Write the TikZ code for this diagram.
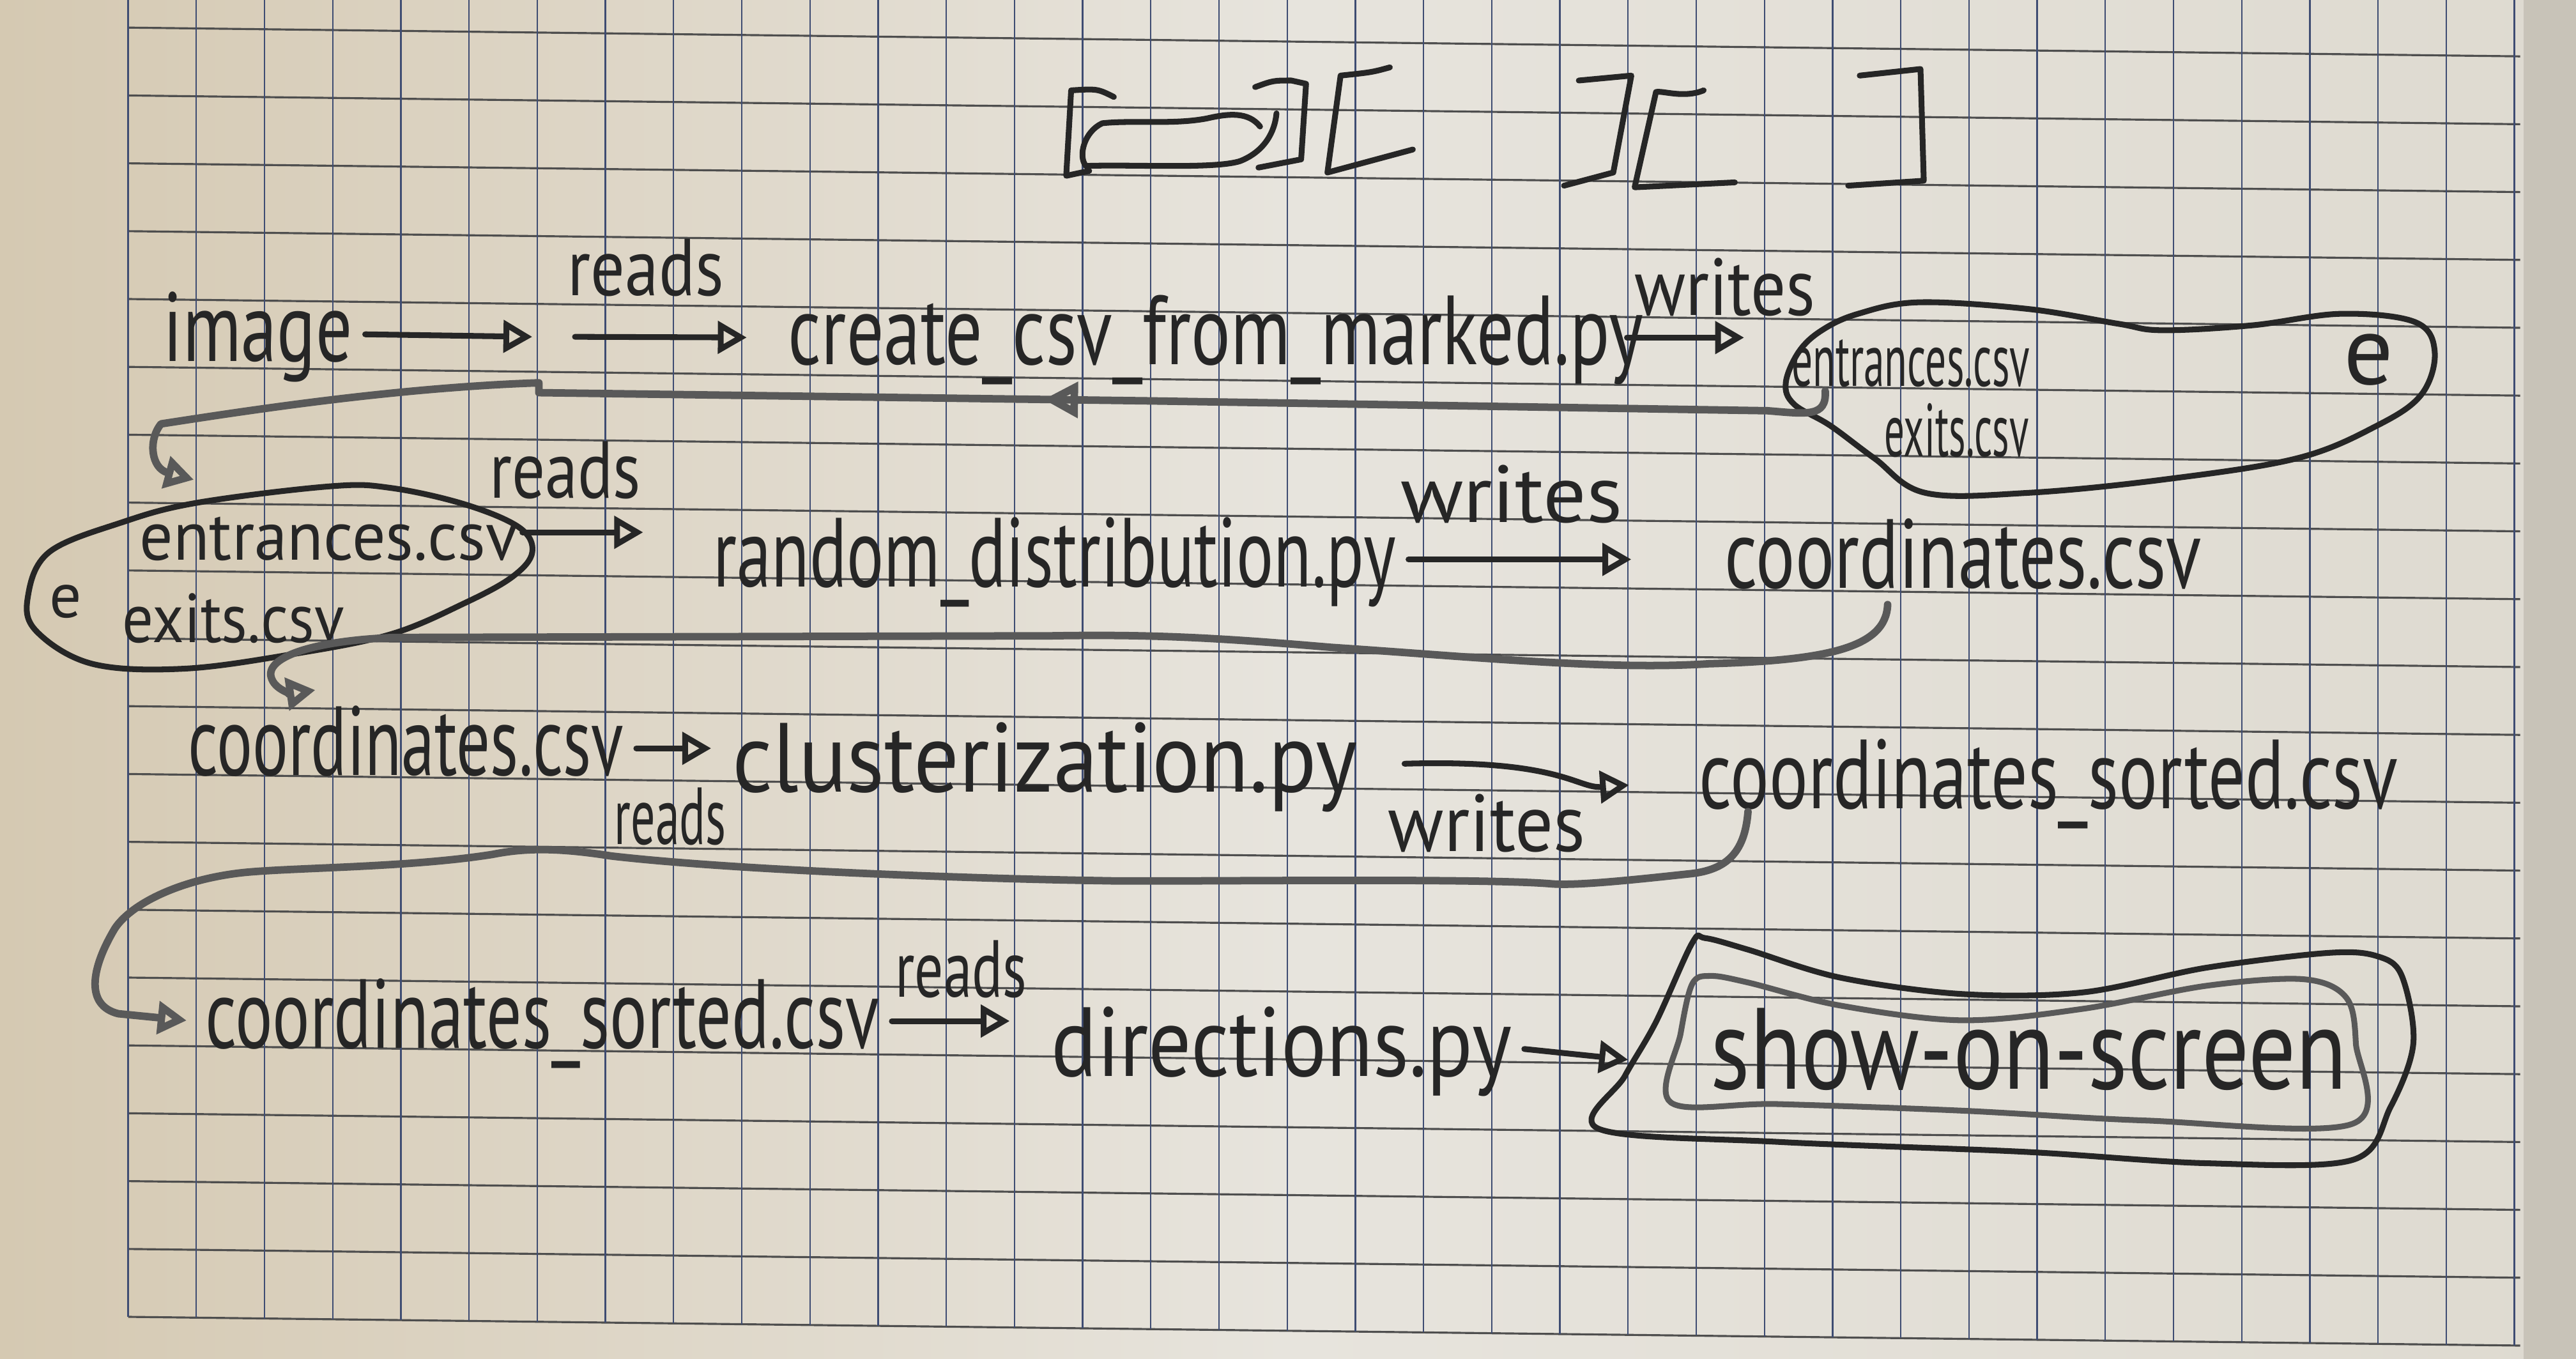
\documentclass[tikz,border=0pt]{standalone}
\usepackage{fontspec}
\setmainfont{PT Sans}
\usepackage{graphicx}
\usetikzlibrary{arrows.meta,decorations.markings,calc}

\definecolor{paperL}{HTML}{D5C9B2}
\definecolor{paperM}{HTML}{E7E4DD}
\definecolor{paperR}{HTML}{DEDAD0}
\definecolor{pageedge}{HTML}{AFA89C}
\definecolor{gridh}{HTML}{4E4E4E}
\definecolor{gridv}{HTML}{3E4C72}
\definecolor{lead}{HTML}{262626}
\definecolor{leadsoft}{HTML}{595959}

% squeeze a label horizontally to a given width, keeping its height
\newcommand\hw[2]{\resizebox{#1}{\height}{#2}}

\tikzset{
  pencil/.style={draw=lead, line width=1pt, line cap=round, line join=round},
  soft/.style={draw=leadsoft, line width=1.3pt, line cap=round, line join=round},
  tip/.style={-{Triangle[open,length=5pt,width=5.5pt]}},
  arr/.style={pencil, tip},
  lbl/.style={text=lead, inner sep=2pt, anchor=base,
              font=\fontsize{17}{19}\selectfont, text height=13pt, text depth=3.6pt},
  small/.style={lbl, font=\fontsize{14}{16}\selectfont, text height=10pt, text depth=2.6pt},
  tiny/.style={lbl, font=\fontsize{13}{15}\selectfont, text height=9pt, text depth=2.4pt},
  midtip/.style={postaction={decorate}, decoration={markings,
      mark=at position #1 with {\arrow{Triangle[open,length=6pt,width=6pt]}}}},
}

\begin{document}
\begin{tikzpicture}[x=0.01cm,y=-0.01cm]
\useasboundingbox (0,0) rectangle (1568,827);

% ---- squared paper ----
\shade[left color=paperL, right color=paperR, middle color=paperM] (0,0) rectangle (1568,827);
\fill[pageedge, opacity=0.45] (1536,0) rectangle (1568,827);
\foreach \k in {-3,...,16}
  \draw[gridh, line width=0.35pt] (78,{140.7+41.3*\k}) -- (1534,{158.2+41.3*\k});
\foreach \i in {0,...,35}
  \draw[gridv, line width=0.25pt] ({78+41.5*\i},0) -- ({78+41.5*\i},{801.5+0.498*\i});

% ---- screen layout doodle ----
\draw[pencil] (678,59) .. controls (668,54) .. (652,55) -- (649,107) -- (663,104);
\draw[pencil] (767,77) .. controls (760,68) and (748,69) .. (735,72)
  .. controls (715,76) and (690,73) .. (671,75)
  .. controls (660,80) and (656,95) .. (661,101)
  .. controls (690,100) and (740,103) .. (755,98)
  .. controls (770,92) and (776,80) .. (777,69);
\draw[pencil] (764,53) .. controls (775,49) .. (786,49) -- (795,51) -- (792,97) -- (766,102);
\draw[pencil] (846,41) .. controls (835,44) .. (816,46) -- (808,105) -- (860,91);
\draw[pencil] (961,49) -- (993,46) -- (982,105) -- (952,113);
\draw[pencil] (1037,55) .. controls (1025,60) and (1012,55) .. (1008,56) -- (995,114) -- (1056,111);
\draw[pencil] (1132,46) -- (1169,42) -- (1171,110) -- (1125,113);

% ---- row 1 ----
\node[lbl] (image) at (157,220) {\hw{1.15cm}{image}};
\node[lbl] (create) at (740,222) {\hw{5.2cm}{create\_csv\_from\_marked.py}};
\node[small] (reads1) at (393,180) {\hw{0.95cm}{reads}};
\node[small] (writes1) at (1050,192) {\hw{1.1cm}{writes}};
\node[tiny] (entr1) at (1163,235) {\hw{1.45cm}{entrances.csv}};
\node[tiny] (exits1) at (1191,278) {\hw{0.88cm}{exits.csv}};
\node[small, font=\fontsize{17}{19}\selectfont] (e1) at (1442,234) {e};
\draw[pencil] plot[smooth cycle, tension=0.6] coordinates {
  (1168,184) (1234,188) (1289,197) (1316,201) (1371,198) (1425,191) (1470,196)
  (1482,214) (1474,240) (1447,259) (1398,279) (1316,292) (1234,300) (1172,300)
  (1141,279) (1114,259) (1092,246) (1087,233) (1095,214) (1109,201) (1131,191)};

\coordinate (r1a) at (324,205);
\coordinate (r1b) at (350,205);
\draw[arr] (image.east) -- (r1a);
\draw[arr, shorten >=5pt] (r1b) -- (create.west);
\draw[arr, shorten <=-5pt, shorten >=6pt] (create.east) -- (create.east -| entr1.west);

% ---- row 2 ----
\node[tiny, font=\fontsize{12}{14}\selectfont, inner sep=0pt] (entr2) at (200,341) {\hw{2.3cm}{entrances.csv}};
\node[tiny, font=\fontsize{12}{14}\selectfont, inner sep=0pt] (exits2) at (142,391) {\hw{1.35cm}{exits.csv}};
\node[small, font=\fontsize{11}{13}\selectfont] (e2) at (40,376) {e};
\node[small] (reads2) at (344,303) {\hw{0.92cm}{reads}};
\node[lbl] (random) at (642,357) {\hw{4.15cm}{random\_distribution.py}};
\node[small] (writes2) at (920,318) {\hw{1.35cm}{writes}};
\node[lbl] (coords2) at (1195,358) {\hw{2.9cm}{coordinates.csv}};
\draw[pencil] plot[smooth cycle, tension=0.6] coordinates {
  (17,363) (30,336) (74,318) (120,306) (201,296) (238,297) (283,307) (316,321)
  (324,336) (312,351) (283,367) (238,386) (179,398) (112,407) (56,404) (22,384)};

\coordinate (b2r) at (318,324);
\draw[arr, shorten >=10pt] (b2r) -- (b2r -| random.west);
\draw[arr, shorten >=14pt] (random.east) -- (random.east -| coords2.west);

% entrances / exits handed down from row 1 to row 2
\coordinate (fb1s) at (1111,238);
\coordinate (fb1e) at (118,292);
\draw[soft, tip, midtip=0.45] (fb1s) .. controls (1112,254) and (1100,252) .. (1076,250)
  -- (700,244) -- (328,239) -- (328,233)
  .. controls (240,236) and (150,250) .. (98,258)
  .. controls (90,268) and (92,285) .. (fb1e);

% ---- row 3 ----
\node[lbl] (coords3) at (247,472) {\hw{2.65cm}{coordinates.csv}};
\node[small] (reads3) at (408,514) {\hw{0.68cm}{reads}};
\node[lbl] (clust) at (636,482) {\hw{3.8cm}{clusterization.py}};
\node[small] (writes3) at (905,518) {\hw{1.2cm}{writes}};
\node[lbl] (sorted3) at (1247,492) {\hw{4.25cm}{coordinates\_sorted.csv}};

\draw[arr, shorten >=1.5pt] (coords3.east) -- (coords3.east -| clust.west);
\draw[arr, shorten <=6pt, shorten >=10pt] (clust.east)
  .. controls (950,462) and (960,480) .. (sorted3.west);

% coordinates handed down from row 2 to row 3
\coordinate (fb2s) at (1149,368);
\coordinate (fb2e) at (192,420);
\draw[soft, tip] (fb2s) .. controls (1148,395) and (1110,402) .. (1040,404)
  .. controls (980,408) and (900,400) .. (810,394)
  .. controls (740,388) and (700,386) .. (640,387) -- (240,388)
  .. controls (190,390) and (162,400) .. (165,412)
  .. controls (167,420) and (178,422) .. (fb2e);

% ---- row 4 ----
\node[lbl] (sorted4) at (330,638) {\hw{4.1cm}{coordinates\_sorted.csv}};
\node[small] (reads4) at (585,607) {\hw{0.8cm}{reads}};
\node[lbl] (dirs) at (780,655) {\hw{2.8cm}{directions.py}};
\node[lbl, font=\fontsize{20}{22}\selectfont] (show) at (1235,663) {\hw{3.87cm}{show-on-screen}};
\draw[pencil] plot[smooth cycle, tension=0.55] coordinates {
  (1038,571) (1064,578) (1120,595) (1194,605) (1268,604) (1343,589) (1417,580)
  (1447,582) (1462,594) (1469,635) (1455,674) (1432,706) (1343,708) (1231,701)
  (1082,695) (973,687) (989,655) (1008,622) (1030,574)};
\draw[pencil, draw=leadsoft] plot[smooth cycle, tension=0.55] coordinates {
  (1041,594) (1064,598) (1120,612) (1194,621) (1268,614) (1343,600) (1402,596)
  (1428,607) (1434,635) (1432,684) (1306,682) (1194,676) (1082,672) (1017,671)
  (1023,629) (1030,599)};

\coordinate (showin) at (991,645);
\draw[arr, shorten >=5pt] (sorted4.east) -- (sorted4.east -| dirs.west);
\draw[arr] (dirs.east) -- (showin);

% sorted coordinates handed down from row 3 to row 4
\coordinate (fb3s) at (1064,494);
\draw[soft, tip, shorten >=1pt] (fb3s) .. controls (1062,520) and (1050,530) .. (1027,532)
  .. controls (990,536) and (960,539) .. (945,538)
  .. controls (900,534) and (700,537) .. (670,536)
  .. controls (600,535) and (450,530) .. (372,521)
  .. controls (340,516) and (320,516) .. (300,520)
  .. controls (250,528) and (180,528) .. (149,531)
  .. controls (110,535) and (80,550) .. (70,565)
  .. controls (55,590) and (52,612) .. (72,617) -- (sorted4.west);
\end{tikzpicture}
\end{document}
